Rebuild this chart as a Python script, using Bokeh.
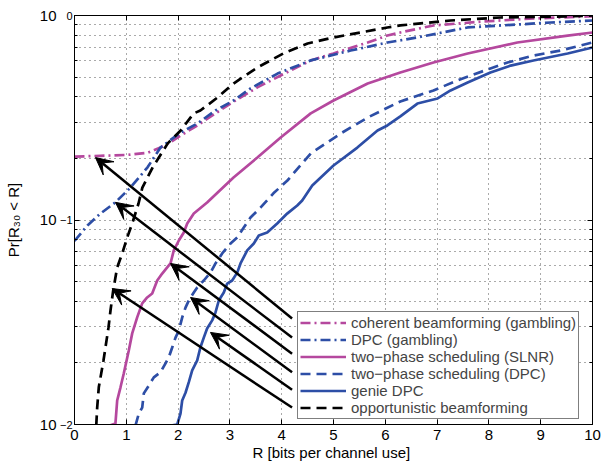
from bokeh.plotting import figure
from bokeh.models import (FixedTicker, LinearAxis, LogAxis, Range1d, Arrow, VeeHead,
                          Legend, LegendItem, CustomJSTickFormatter, ColumnDataSource)
from bokeh.embed import file_html
from bokeh.resources import INLINE

# ---------------- data ----------------
coh_x = [0, 0.5, 1.0, 1.41, 1.66, 1.85, 2.05, 2.37, 3.01, 3.53, 3.98, 4.56, 5.0, 5.66, 6.04, 6.29, 6.93, 7.9, 8.86, 9.9, 10]
coh_p = [0.204, 0.206, 0.208, 0.213, 0.226, 0.240, 0.259, 0.290, 0.371, 0.445, 0.509, 0.603, 0.652, 0.738, 0.798, 0.826, 0.894, 0.935, 0.967, 0.989, 0.99]

dpcg_x = [0, 0.25, 0.5, 0.79, 1.08, 1.41, 1.66, 2.05, 2.37, 2.72, 3.07, 3.4, 3.92, 4.56, 5.33, 6.04, 6.62, 7.59, 9.19, 10]
dpcg_p = [0.079, 0.094, 0.1075, 0.122, 0.144, 0.181, 0.226, 0.268, 0.296, 0.343, 0.384, 0.44, 0.52, 0.603, 0.674, 0.738, 0.781, 0.874, 0.924, 0.945]

slnr_x = [0.695, 0.79, 0.824, 0.888, 0.952, 1.048, 1.114, 1.21, 1.307, 1.403, 1.50, 1.597, 1.693, 1.79, 1.853, 1.917, 2.014, 2.11, 2.176, 2.303, 2.56, 3.07, 3.53, 3.98, 4.56, 5.0, 5.66, 6.29, 6.93, 7.59, 8.55, 9.52, 10]
slnr_p = [0.0099, 0.0101, 0.0131, 0.0152, 0.0178, 0.0230, 0.0279, 0.0334, 0.0391, 0.0418, 0.0437, 0.0506, 0.0547, 0.0586, 0.0613, 0.0710, 0.0794, 0.0869, 0.0962, 0.1075, 0.1218, 0.1614, 0.202, 0.253, 0.332, 0.384, 0.465, 0.526, 0.589, 0.652, 0.738, 0.798, 0.826]

tpdpc_x = [1.178, 1.241, 1.307, 1.338, 1.434, 1.531, 1.66, 1.757, 1.82, 1.886, 1.95, 2.014, 2.08, 2.143, 2.207, 2.303, 2.369, 2.496, 2.625, 2.722, 2.851, 3.012, 3.141, 3.268, 3.398, 3.59, 3.84, 4.11, 4.56, 5.14, 5.66, 6.29, 6.93, 7.39, 8.03, 8.36, 8.86, 9.38, 10]
tpdpc_p = [0.0099, 0.0113, 0.0121, 0.0142, 0.0155, 0.0170, 0.0180, 0.0199, 0.0213, 0.0238, 0.0266, 0.0288, 0.0334, 0.0373, 0.0404, 0.0442, 0.0468, 0.0506, 0.0553, 0.0613, 0.0686, 0.0767, 0.0821, 0.0919, 0.1028, 0.115, 0.135, 0.156, 0.2115, 0.265, 0.317, 0.380, 0.430, 0.481, 0.551, 0.589, 0.637, 0.674, 0.738]

genie_x = [1.89, 1.983, 2.046, 2.079, 2.143, 2.207, 2.272, 2.369, 2.43, 2.496, 2.56, 2.658, 2.722, 2.786, 2.882, 2.948, 3.044, 3.141, 3.205, 3.334, 3.461, 3.558, 3.72, 3.913, 4.106, 4.30, 4.396, 4.59, 5.0, 5.46, 5.85, 6.04, 6.29, 6.62, 7.01, 7.26, 7.59, 8.03, 8.42, 8.86, 9.52, 10]
genie_p = [0.0099, 0.0100, 0.0113, 0.0131, 0.0143, 0.0161, 0.0184, 0.0206, 0.0238, 0.0266, 0.0295, 0.0323, 0.0353, 0.0404, 0.0442, 0.0489, 0.0506, 0.0553, 0.0613, 0.0710, 0.0767, 0.0840, 0.0869, 0.0962, 0.1075, 0.1177, 0.1245, 0.1475, 0.1847, 0.226, 0.274, 0.290, 0.321, 0.371, 0.393, 0.430, 0.470, 0.526, 0.569, 0.6025, 0.652, 0.697]

opp_x = [0.42, 0.438, 0.469, 0.56, 0.598, 0.656, 0.695, 0.747, 0.824, 0.921, 1.017, 1.114, 1.236, 1.31, 1.51, 1.80, 2.05, 2.30, 2.43, 2.76, 3.07, 3.53, 4.03, 4.50, 5.0, 5.52, 6.04, 6.29, 7.26, 8.22, 9.52, 10]
opp_p = [0.0099, 0.0121, 0.0152, 0.0206, 0.0238, 0.0298, 0.0361, 0.0452, 0.0586, 0.0686, 0.0821, 0.0962, 0.1204, 0.144, 0.181, 0.237, 0.274, 0.332, 0.343, 0.397, 0.465, 0.557, 0.652, 0.730, 0.781, 0.826, 0.874, 0.894, 0.945, 0.978, 0.989, 1.0]

series_labels = ["coherent beamforming (gambling)", "DPC (gambling)",
                 "two\u2212phase scheduling (SLNR)", "two\u2212phase scheduling (DPC)",
                 "genie DPC", "opportunistic beamforming"]

x_ticks = [0, 1, 2, 3, 4, 5, 6, 7, 8, 9, 10]
y_ticks = [0.01, 0.1, 1]
y_tick_base = "10"
y_tick_exps = ["\u22122", "\u22121", "0"]
y_minor_ticks = [0.02, 0.03, 0.04, 0.05, 0.06, 0.07, 0.08, 0.09,
                 0.2, 0.3, 0.4, 0.5, 0.6, 0.7, 0.8, 0.9]

# annotation arrows (legend side -> curve)
arrow_tail_x = [4.2, 4.2, 4.2, 4.2, 4.2, 4.2]
arrow_tail_p = [0.0330, 0.0266, 0.0222, 0.0180, 0.0148, 0.0121]
arrow_tip_x = [0.405, 0.79, 1.853, 2.24, 2.625, 0.728]
arrow_tip_p = [0.202, 0.122, 0.0613, 0.0418, 0.0282, 0.0462]

# ---------------- styles ----------------
FONT = "Liberation Sans"
MAGENTA = "#B5489E"
BLUE = "#2D4EA6"
GRID = "#555555"

p = figure(width=608, height=464, x_range=Range1d(0, 10), y_range=Range1d(0.01, 1),
           y_axis_type="log", output_backend="svg", toolbar_location=None,
           min_border_left=74, min_border_right=16, min_border_top=15, min_border_bottom=40)
p.background_fill_color = "white"
p.border_fill_color = "white"
p.outline_line_color = "black"

def style_axis(ax):
    ax.axis_line_color = "black"
    ax.major_tick_line_color = "black"
    ax.minor_tick_line_color = "black"
    ax.major_tick_in = 5
    ax.major_tick_out = 0
    ax.minor_tick_in = 3
    ax.minor_tick_out = 0
    ax.major_label_text_font = FONT
    ax.major_label_text_font_size = "15px"
    ax.major_label_text_color = "black"
    ax.axis_label_text_font = FONT
    ax.axis_label_text_font_size = "15px"
    ax.axis_label_text_font_style = "normal"
    ax.axis_label_text_color = "black"

xa = p.xaxis[0]
xa.ticker = FixedTicker(ticks=x_ticks, minor_ticks=[])
style_axis(xa)
xa.axis_label = "R  [bits per channel use]"
xa.major_label_standoff = 5
xa.axis_label_standoff = 1

# inner left axis: ticks + exponent (superscript) part of the labels
ya = p.yaxis[0]
ya.ticker = FixedTicker(ticks=y_ticks, minor_ticks=y_minor_ticks)
ya.formatter = CustomJSTickFormatter(args=dict(tvals=y_ticks, tlabels=y_tick_exps), code="""
for (let i = 0; i < tvals.length; i++) {
  if (Math.abs(Math.log10(tick) - Math.log10(tvals[i])) < 1e-6) return tlabels[i];
}
return '';
""")
style_axis(ya)
ya.major_label_text_font_size = "11px"
ya.major_label_standoff = 2
ya.major_label_text_baseline = "bottom"

# outer left axis: base "10" of the labels and the axis title
yb = LogAxis(ticker=FixedTicker(ticks=y_ticks, minor_ticks=[]),
             formatter=CustomJSTickFormatter(args=dict(base=y_tick_base), code="return base;"))
style_axis(yb)
yb.axis_line_color = None
yb.major_tick_line_color = None
yb.minor_tick_line_color = None
yb.major_tick_in = 0
yb.minor_tick_in = 0
yb.major_label_standoff = 0
yb.major_label_text_baseline = "top"
yb.major_label_text_align = "right"
yb.axis_label = "Pr[R\u2083\u2080 < R]"
yb.axis_label_standoff = 15
p.add_layout(yb, "left")

top = LinearAxis(ticker=FixedTicker(ticks=x_ticks, minor_ticks=[]),
                 formatter=CustomJSTickFormatter(code="return '';"),
                 major_label_standoff=0)
style_axis(top)
p.add_layout(top, "above")
right = LogAxis(ticker=FixedTicker(ticks=y_ticks, minor_ticks=y_minor_ticks),
                formatter=CustomJSTickFormatter(code="return '';"),
                major_label_standoff=0)
style_axis(right)
p.add_layout(right, "right")

p.xgrid.ticker = FixedTicker(ticks=x_ticks, minor_ticks=[])
p.xgrid.grid_line_color = GRID
p.xgrid.grid_line_dash = "1 4"
p.xgrid.grid_line_width = 1
p.ygrid.ticker = FixedTicker(ticks=y_ticks, minor_ticks=y_minor_ticks)
p.ygrid.grid_line_color = GRID
p.ygrid.grid_line_dash = "1 4"
p.ygrid.minor_grid_line_color = GRID
p.ygrid.minor_grid_line_dash = "1 4"

LW = 2.7
r1 = p.line(coh_x, coh_p, line_color=MAGENTA, line_width=LW, line_dash="10 4 2 4")
r2 = p.line(dpcg_x, dpcg_p, line_color=BLUE, line_width=LW, line_dash="10 4 2 4")
r3 = p.line(slnr_x, slnr_p, line_color=MAGENTA, line_width=LW)
r4 = p.line(tpdpc_x, tpdpc_p, line_color=BLUE, line_width=LW, line_dash="10 6")
r5 = p.line(genie_x, genie_p, line_color=BLUE, line_width=LW)
r6 = p.line(opp_x, opp_p, line_color="black", line_width=LW, line_dash="10 6")

src = ColumnDataSource(dict(x0=arrow_tail_x, y0=arrow_tail_p, x1=arrow_tip_x, y1=arrow_tip_p))
p.add_layout(Arrow(source=src, x_start="x0", y_start="y0", x_end="x1", y_end="y1",
                   line_color="black", line_width=2.5,
                   end=VeeHead(size=17, fill_color="black", line_color="black", line_width=1)))

legend = Legend(items=[LegendItem(label=lab, renderers=[r]) for lab, r in
                       zip(series_labels, [r1, r2, r3, r4, r5, r6])],
                location=(223, 5), margin=0, padding=2, spacing=0,
                label_height=17, glyph_height=17, glyph_width=46, label_standoff=5,
                label_text_font=FONT, label_text_font_size="15px",
                border_line_color="black", border_line_width=1,
                background_fill_color="white", background_fill_alpha=1.0)
p.add_layout(legend)

open("out.html", "w").write(file_html(p, INLINE))
